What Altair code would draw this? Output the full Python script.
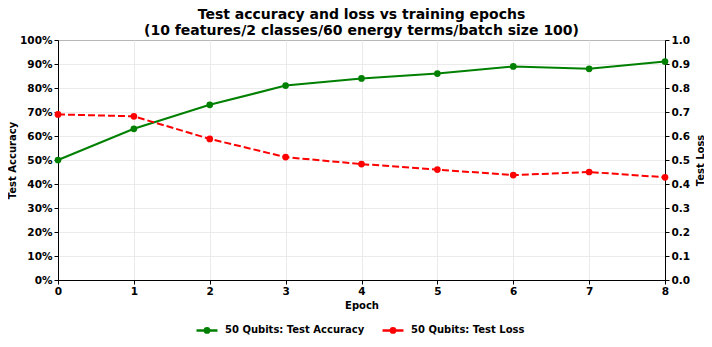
import altair as alt
import pandas as pd

epochs = [0, 1, 2, 3, 4, 5, 6, 7, 8]
accuracy = [0.50, 0.63, 0.73, 0.81, 0.84, 0.86, 0.89, 0.88, 0.91]
loss = [0.69, 0.682, 0.588, 0.512, 0.483, 0.46, 0.437, 0.45, 0.428]
series_names = ["50 Qubits: Test Accuracy", "50 Qubits: Test Loss"]
series_colors = ["#008000", "#ff0000"]

df = pd.DataFrame({
    "Epoch": epochs * 2,
    "value": accuracy + loss,
    "series": [series_names[0]] * len(epochs) + [series_names[1]] * len(epochs),
})

FONT = "DejaVu Sans"

color = alt.Color(
    "series:N",
    scale=alt.Scale(domain=series_names, range=series_colors),
    legend=alt.Legend(
        title=None, orient="none", direction="horizontal",
        legendX=137, legendY=278,
        labelFont=FONT, labelFontWeight="bold", labelFontSize=10, labelColor="black",
        symbolType="M-1,0L1,0M-0.2,0A0.2,0.2 0 1 1 0.2,0A0.2,0.2 0 1 1 -0.2,0",
        symbolSize=440, symbolStrokeWidth=2.5,
        columnPadding=12, labelOffset=6,
    ),
)

x = alt.X(
    "Epoch:Q",
    scale=alt.Scale(domain=[0, 8], nice=False),
    axis=alt.Axis(values=epochs, format="d", title="Epoch", labelFlush=False),
)

base = alt.Chart(df)
ticks = [i / 10 for i in range(11)]

acc_layer = base.transform_filter(alt.datum.series == series_names[0]).mark_line(
    point=alt.OverlayMarkDef(size=45, filled=True), strokeWidth=2
).encode(
    x=x,
    y=alt.Y("value:Q", scale=alt.Scale(domain=[0, 1], nice=False),
            axis=alt.Axis(orient="left", format=".0%", values=ticks,
                          title="Test Accuracy", grid=True,
                          titleX=-46, titleY=120, titleAngle=270,
                          titleAlign="center", titleBaseline="middle")),
    color=color,
)

loss_layer = base.transform_filter(alt.datum.series == series_names[1]).mark_line(
    point=alt.OverlayMarkDef(size=45, filled=True), strokeWidth=2, strokeDash=[7, 3]
).encode(
    x=x,
    y=alt.Y("value:Q", scale=alt.Scale(domain=[0, 1], nice=False),
            axis=alt.Axis(orient="right", format=".1f", values=ticks,
                          title="Test Loss", grid=False,
                          titleX=35, titleY=120, titleAngle=270,
                          titleAlign="center", titleBaseline="middle")),
    color=color,
)

chart = alt.layer(acc_layer, loss_layer).resolve_scale(y="independent").properties(
    width=607,
    height=240,
    autosize=alt.AutoSizeParams(type="none"),
    padding={"left": 50, "top": 32, "right": 39, "bottom": 59},
    title=alt.Title(
        ["Test accuracy and loss vs training epochs",
         "(10 features/2 classes/60 energy terms/batch size 100)"],
        font=FONT, fontSize=14, fontWeight="bold", color="black",
        anchor="middle", offset=-3, lineHeight=16,
    ),
).configure_view(
    stroke="black", strokeWidth=1
).configure_axis(
    labelFont=FONT, labelFontWeight="bold", labelFontSize=10.5, labelColor="black",
    titleFont=FONT, titleFontWeight="bold", titleFontSize=10, titleColor="black",
    domainColor="black", tickColor="black", tickSize=4,
    gridColor="#e6e6e6", gridWidth=0.8, labelPadding=2,
).configure_axisX(grid=True, titlePadding=4)

chart.save("out.html", embed_options={"renderer": "svg", "actions": False})
